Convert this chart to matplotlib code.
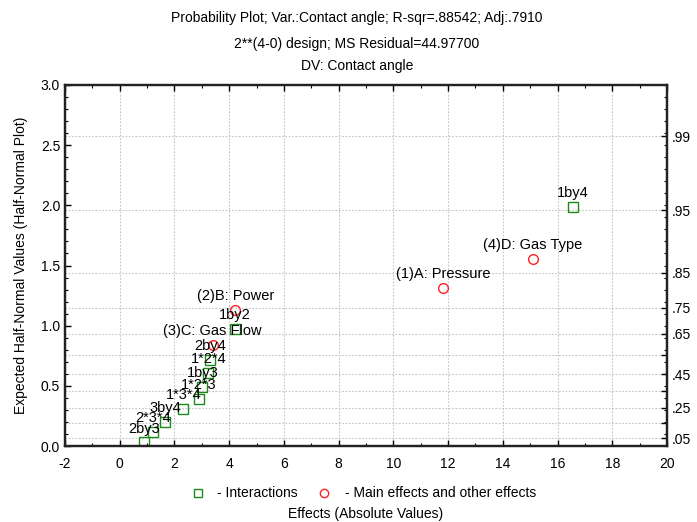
import matplotlib
matplotlib.use("Agg")
import matplotlib.pyplot as plt
from matplotlib.lines import Line2D
from statistics import NormalDist

plt.rcParams['font.family'] = ['Liberation Sans', 'DejaVu Sans']
plt.rcParams['axes.unicode_minus'] = False

# Interactions (green squares)
inter_labels = ["1by4", "1by2", "2by4", "1*2*4", "1by3", "1*2*3", "1*3*4", "3by4", "2*3*4", "2by3"]
inter_x = [16.56, 4.22, 3.31, 3.24, 3.02, 2.89, 2.32, 1.655, 1.23, 0.887]
inter_y = [1.99, 0.97, 0.715, 0.604, 0.493, 0.393, 0.305, 0.202, 0.114, 0.03]

# Main effects (red circles)
main_labels = ["(4)D: Gas Type", "(1)A: Pressure", "(2)B: Power", "(3)C: Gas Flow"]
main_x = [15.09, 11.83, 4.225, 3.40]
main_y = [1.557, 1.316, 1.13, 0.84]

# Right-axis probability ticks
prob_ticks = [.05, .15, .25, .35, .45, .55, .65, .75, .85, .95, .99]
prob_labels = [".05", "", ".25", "", ".45", "", ".65", ".75", ".85", ".95", ".99"]

x_ticks = list(range(-2, 21, 2))
y_ticks = [0.0, 0.5, 1.0, 1.5, 2.0, 2.5, 3.0]

title_lines = ["Probability Plot; Var.:Contact angle; R-sqr=.88542; Adj:.7910",
               "2**(4-0) design; MS Residual=44.97700",
               "DV: Contact angle"]

fig = plt.figure(figsize=(6.97, 5.22), dpi=100)
ax = fig.add_axes([65/697, 1-446/522, (667-65)/697, (446-85)/522])

prob_pos = [NormalDist().inv_cdf((1 + p) / 2) for p in prob_ticks]

ax.set_xlim(-2, 20)
ax.set_ylim(0, 3)
ax.set_xticks(x_ticks)
ax.set_xticks(range(-2, 21), minor=True)
ax.set_yticks(y_ticks)
ax.set_yticklabels([f"{v:.1f}" for v in y_ticks])
ax.set_yticks([i/10 for i in range(31)], minor=True)

ax.grid(False)
for xv in x_ticks[1:-1]:
    ax.axvline(xv, color='#c4c4c4', lw=0.8, ls=(0, (1.5, 1.5)), zorder=0)
for yv in prob_pos:
    ax.axhline(yv, color='#c4c4c4', lw=0.8, ls=(0, (1.5, 1.5)), zorder=0)

ax.tick_params(axis='both', which='both', direction='in', top=True, right=False,
               labelsize=10, colors='black')
ax.tick_params(which='major', length=4, width=1)
ax.tick_params(which='minor', length=2, width=0.8)
ax.tick_params(axis='x', pad=8)

ax2 = ax.twinx()
ax2.set_ylim(0, 3)
ax2.set_yticks(prob_pos)
ax2.set_yticklabels(prob_labels)
ax2.set_yticks([i/10 for i in range(31)], minor=True)
ax2.tick_params(axis='y', which='both', direction='in', labelsize=10)
ax2.tick_params(which='major', length=4, width=1)
ax2.tick_params(which='minor', length=2, width=0.8)

for a in (ax, ax2):
    for s in a.spines.values():
        s.set_linewidth(1.6)
        s.set_color('#222222')

ax.plot(inter_x, inter_y, ls='none', marker='s', ms=7, mfc='none', mec='#1a8a1a', mew=1.0, zorder=3)
ax.plot(main_x, main_y, ls='none', marker='o', ms=7, mfc='none', mec='#ff2020', mew=1.0, zorder=3)

for lab, x, y in zip(inter_labels, inter_x, inter_y):
    ax.annotate(lab, (x, y), xytext=(0, 10), textcoords='offset points',
                ha='center', va='center', fontsize=10.5, zorder=4)
for lab, x, y in zip(main_labels, main_x, main_y):
    ax.annotate(lab, (x, y), xytext=(0, 10), textcoords='offset points',
                ha='center', va='center', fontsize=10.5, zorder=4)

ax.set_ylabel("Expected Half-Normal Values (Half-Normal Plot)", fontsize=10, labelpad=9)

for i, (line, yy) in enumerate(zip(title_lines, [18, 44, 66])):
    fig.text(357/697, 1 - yy/522, line, ha='center', va='center', fontsize=10)

# legend row
fig.lines.append(Line2D([198/697], [1-493/522], transform=fig.transFigure, marker='s', ms=6,
                        mfc='none', mec='#1a8a1a', mew=1.0, ls='none'))
fig.text(217/697, 1-493/522, "- Interactions", ha='left', va='center', fontsize=10)
fig.lines.append(Line2D([324/697], [1-493/522], transform=fig.transFigure, marker='o', ms=6,
                        mfc='none', mec='#ff2020', mew=1.0, ls='none'))
fig.text(345/697, 1-493/522, "- Main effects and other effects", ha='left', va='center', fontsize=10)
fig.text(366/697, 1-514/522, "Effects (Absolute Values)", ha='center', va='center', fontsize=10)

fig.savefig("out.png", dpi=100)
